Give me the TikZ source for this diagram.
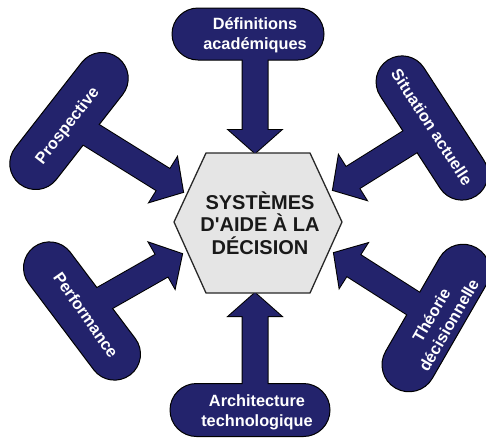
\documentclass[tikz,border=0pt]{standalone}
\usepackage{fontspec}
\setmainfont{Liberation Sans}
\usetikzlibrary{calc,shapes.misc}
\definecolor{pillnavy}{RGB}{35,35,108}
\definecolor{hexfill}{RGB}{229,229,229}
\definecolor{hexline}{RGB}{40,40,40}
\definecolor{ink}{RGB}{25,25,25}
\pgfdeclarelayer{arrowline}
\pgfdeclarelayer{arrowfill}
\pgfdeclarelayer{front}
\pgfsetlayers{arrowline,main,arrowfill,front}
\tikzset{
 pill/.style={rounded rectangle, fill=pillnavy, draw=black, line width=1pt, inner sep=0pt, minimum height=52pt},
 pilltext/.style={text=white, font=\bfseries\fontsize{16.3}{20}\selectfont, align=center, inner sep=0pt},
 arrowedge/.style={draw=black, line width=2pt, fill=pillnavy, line join=miter},
 arrowbody/.style={fill=pillnavy},
 hexagon/.style={draw=hexline, line width=1.3pt, fill=hexfill, line join=miter},
 hextext/.style={text=ink, font=\bfseries\fontsize{20}{22.5}\selectfont, align=center, inner sep=0pt}
}
% #1 name, #2 start, #3 tip
\newcommand\arrowpoints[3]{%
  \coordinate (#1-b) at ($(#3)!23pt!(#2)$);
  \coordinate (#1-hL) at ($(#1-b)!26pt!90:(#3)$);
  \coordinate (#1-hR) at ($(#1-b)!26pt!-90:(#3)$);
  \coordinate (#1-sL) at ($(#1-b)!12.5pt!90:(#3)$);
  \coordinate (#1-sR) at ($(#1-b)!12.5pt!-90:(#3)$);
  \coordinate (#1-eL) at ($(#2)!12.5pt!90:(#3)$);
  \coordinate (#1-eR) at ($(#2)!12.5pt!-90:(#3)$);
}
% #1 style, #2 name, #3 tip
\newcommand\arrowshape[3]{%
  \path[#1] (#3) -- (#2-hL) -- (#2-sL) -- (#2-eL) -- (#2-eR) -- (#2-sR) -- (#2-hR) -- cycle;
}
\begin{document}
\begin{tikzpicture}[x=1pt,y=-1pt]
\useasboundingbox (0,0) rectangle (486,437);
% central hexagon
\draw[hexagon] (206,153) -- (310,153) -- (342,222) -- (310,293) -- (206,293) -- (174,222) -- cycle;
\node[hextext] (dss) at (260,223) {SYSTÈMES\\D\textquotesingle AIDE À LA\\DÉCISION};
% pills
\node[pill, minimum width=152pt] (def) at (248,34) {};
\node[pill, minimum width=160pt, minimum height=53pt] (arch) at (250,410) {};
\node[pill, minimum width=160pt, rotate=52] (pros) at (69,121) {};
\node[pill, minimum width=162pt, rotate=-57] (sit) at (432,128) {};
\node[pill, minimum width=160pt, rotate=-53] (perf) at (82,311) {};
\node[pill, minimum width=162pt, minimum height=54pt, rotate=60] (theo) at (436,318) {};
% arrow tips (free ends at the hexagon)
\coordinate (tdef) at (255,153);
\coordinate (tarch) at (255,293);
\coordinate (tpros) at (183,192);
\coordinate (tsit) at (333,190);
\coordinate (tperf) at (182,254);
\coordinate (ttheo) at (334,253);
\coordinate (sdef) at (tdef |- def.center);
\coordinate (sarch) at (tarch |- arch.center);
\arrowpoints{adef}{sdef}{tdef}
\arrowpoints{aarch}{sarch}{tarch}
\arrowpoints{apros}{pros.center}{tpros}
\arrowpoints{asit}{sit.center}{tsit}
\arrowpoints{aperf}{perf.center}{tperf}
\arrowpoints{atheo}{theo.center}{ttheo}
\begin{pgfonlayer}{arrowline}
  \arrowshape{arrowedge}{adef}{tdef}
  \arrowshape{arrowedge}{aarch}{tarch}
  \arrowshape{arrowedge}{apros}{tpros}
  \arrowshape{arrowedge}{asit}{tsit}
  \arrowshape{arrowedge}{aperf}{tperf}
  \arrowshape{arrowedge}{atheo}{ttheo}
\end{pgfonlayer}
\begin{pgfonlayer}{arrowfill}
  \arrowshape{arrowbody}{adef}{tdef}
  \arrowshape{arrowbody}{aarch}{tarch}
  \arrowshape{arrowbody}{apros}{tpros}
  \arrowshape{arrowbody}{asit}{tsit}
  \arrowshape{arrowbody}{aperf}{tperf}
  \arrowshape{arrowbody}{atheo}{ttheo}
\end{pgfonlayer}
\begin{pgfonlayer}{front}
  \node[pilltext] (ldef) at (255,35) {Définitions\\académiques};
  \node[pilltext] (larch) at (257,412) {Architecture\\technologique};
  \node[pilltext, rotate=52] (lpros) at (68,126) {Prospective};
  \node[pilltext, rotate=-57] (lsit) at (432,127) {Situation actuelle};
  \node[pilltext, rotate=-55] (lperf) at (86,315) {Performance};
  \node[pilltext, rotate=60] (ltheo) at (440,320) {Théorie\\décisionnelle};
\end{pgfonlayer}
\end{tikzpicture}
\end{document}
